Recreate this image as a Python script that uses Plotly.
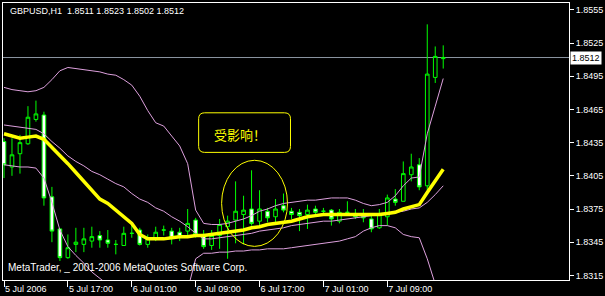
import plotly.graph_objects as go
import pandas as pd

# ---- data ----
times = pd.date_range("2006-07-05 09:00", periods=56, freq="h")

open_ = [1.8436, 1.8413, 1.8425, 1.8434, 1.8456, 1.8460, 1.8386, 1.8357, 1.8331, 1.8343,
         1.8343, 1.8346, 1.8351, 1.8347, 1.8343, 1.8342, 1.8353, 1.8356, 1.8343, 1.8349,
         1.8356, 1.8355, 1.8354, 1.8355, 1.8365, 1.8352, 1.8342, 1.8351, 1.8359, 1.8365,
         1.8370, 1.8375, 1.8364, 1.8373, 1.8368, 1.8378, 1.8373, 1.8372, 1.8370, 1.8375,
         1.8373, 1.8374, 1.8364, 1.8372, 1.8371, 1.8370, 1.8366, 1.8358, 1.8368, 1.8384,
         1.8382, 1.8406, 1.8415, 1.8396, 1.8494, 1.8511]
high = [1.8439, 1.8439, 1.8442, 1.8468, 1.8473, 1.8463, 1.8395, 1.8357, 1.8352, 1.8358,
        1.8358, 1.8359, 1.8355, 1.8356, 1.8347, 1.8359, 1.8361, 1.8358, 1.8352, 1.8359,
        1.8360, 1.8358, 1.8358, 1.8375, 1.8367, 1.8356, 1.8356, 1.8366, 1.8369, 1.8400,
        1.8387, 1.8410, 1.8392, 1.8376, 1.8384, 1.8389, 1.8376, 1.8375, 1.8379, 1.8378,
        1.8376, 1.8375, 1.8375, 1.8382, 1.8375, 1.8375, 1.8370, 1.8375, 1.8388, 1.8393,
        1.8418, 1.8425, 1.8421, 1.8542, 1.8522, 1.8523]
low = [1.8403, 1.8405, 1.8407, 1.8433, 1.8454, 1.8378, 1.8345, 1.8328, 1.8330, 1.8336,
       1.8336, 1.8340, 1.8340, 1.8340, 1.8334, 1.8342, 1.8349, 1.8342, 1.8340, 1.8346,
       1.8351, 1.8343, 1.8346, 1.8351, 1.8349, 1.8339, 1.8338, 1.8339, 1.8330, 1.8344,
       1.8343, 1.8360, 1.8360, 1.8363, 1.8363, 1.8372, 1.8366, 1.8355, 1.8357, 1.8369,
       1.8370, 1.8360, 1.8362, 1.8369, 1.8366, 1.8363, 1.8354, 1.8357, 1.8360, 1.8378,
       1.8382, 1.8400, 1.8392, 1.8392, 1.8489, 1.8502]
close = [1.8415, 1.8424, 1.8435, 1.8458, 1.8461, 1.8385, 1.8355, 1.8331, 1.8340, 1.8345,
         1.8348, 1.8350, 1.8347, 1.8344, 1.8343, 1.8353, 1.8353, 1.8343, 1.8348, 1.8354,
         1.8356, 1.8349, 1.8350, 1.8362, 1.8352, 1.8341, 1.8351, 1.8361, 1.8364, 1.8373,
         1.8374, 1.8362, 1.8375, 1.8367, 1.8375, 1.8374, 1.8370, 1.8369, 1.8374, 1.8372,
         1.8373, 1.8366, 1.8372, 1.8372, 1.8368, 1.8367, 1.8357, 1.8370, 1.8385, 1.8381,
         1.8407, 1.8413, 1.8395, 1.8497, 1.8513, 1.8512]

ma_yellow = [1.8443, 1.8441, 1.8439, 1.8440, 1.8441, 1.8438, 1.8431, 1.8424, 1.8416, 1.8408,
             1.8400, 1.8392, 1.8384, 1.8380, 1.8374, 1.8369, 1.8362, 1.8352, 1.8348, 1.8348,
             1.8348, 1.8349, 1.8350, 1.8350, 1.8351, 1.8351, 1.8352, 1.8353, 1.8354, 1.8355,
             1.8356, 1.8358, 1.8359, 1.8361, 1.8362, 1.8363, 1.8364, 1.8366, 1.8368, 1.8369,
             1.8370, 1.8370, 1.8370, 1.8370, 1.8370, 1.8370, 1.8370, 1.8370, 1.8371, 1.8372,
             1.8375, 1.8377, 1.8379, 1.8390, 1.8401, 1.8411]
bb_mid = [1.8451, 1.8450, 1.8449, 1.8448, 1.8447, 1.8443, 1.8436, 1.8430, 1.8423, 1.8418,
          1.8414, 1.8409, 1.8406, 1.8402, 1.8398, 1.8395, 1.8389, 1.8384, 1.8381, 1.8376,
          1.8373, 1.8368, 1.8364, 1.8359, 1.8353, 1.8348, 1.8348, 1.8349, 1.8350, 1.8351,
          1.8352, 1.8353, 1.8355, 1.8356, 1.8357, 1.8358, 1.8360, 1.8361, 1.8362, 1.8363,
          1.8364, 1.8364, 1.8365, 1.8366, 1.8367, 1.8368, 1.8369, 1.8370, 1.8371, 1.8372,
          1.8373, 1.8375, 1.8376, 1.8381, 1.8388, 1.8396]
bb_upper = [1.8485, 1.8483, 1.8482, 1.8481, 1.8482, 1.8485, 1.8492, 1.8500, 1.8503, 1.8502,
            1.8501, 1.8500, 1.8499, 1.8497, 1.8496, 1.8492, 1.8487, 1.8477, 1.8464, 1.8453,
            1.8450, 1.8441, 1.8432, 1.8416, 1.8374, 1.8362, 1.8361, 1.8361, 1.8362, 1.8364,
            1.8366, 1.8369, 1.8373, 1.8375, 1.8378, 1.8380, 1.8381, 1.8382, 1.8383, 1.8383,
            1.8384, 1.8385, 1.8385, 1.8385, 1.8383, 1.8380, 1.8378, 1.8379, 1.8381, 1.8387,
            1.8396, 1.8403, 1.8404, 1.8443, 1.8468, 1.8493]
bb_lower = [1.8415, 1.8414, 1.8413, 1.8413, 1.8412, 1.8403, 1.8381, 1.8356, 1.8341, 1.8333,
            1.8326, 1.8318, 1.8312, 1.8307, 1.8301, 1.8297, 1.8290, 1.8291, 1.8297, 1.8299,
            1.8295, 1.8296, 1.8296, 1.8302, 1.8330, 1.8335, 1.8335, 1.8336, 1.8336, 1.8337,
            1.8337, 1.8338, 1.8338, 1.8339, 1.8339, 1.8339, 1.8340, 1.8341, 1.8342, 1.8343,
            1.8344, 1.8345, 1.8346, 1.8348, 1.8350, 1.8355, 1.8358, 1.8360, 1.8360, 1.8358,
            1.8352, 1.8350, 1.8349, 1.8330, 1.8307, 1.8296]

tick_times = ["2006-07-05 09:00", "2006-07-05 17:00", "2006-07-06 01:00", "2006-07-06 09:00",
              "2006-07-06 17:00", "2006-07-07 01:00", "2006-07-07 09:00"]
tick_labels = ["5 Jul 2006", "5 Jul 17:00", "6 Jul 01:00", "6 Jul 09:00",
               "6 Jul 17:00", "7 Jul 01:00", "7 Jul 09:00"]
price_ticks = [1.8315, 1.8345, 1.8375, 1.8405, 1.8435, 1.8465, 1.8495, 1.8525, 1.8555]

title_text = "GBPUSD,H1  1.8511 1.8523 1.8502 1.8512"
copyright_text = "MetaTrader, _ 2001-2006 MetaQuotes Software Corp."
note_text = "受影响！"

# ---- styling ----
W, H = 605, 296
ML, MR, MT, MB = 2, 36, 3, 13
PW = W - ML - MR
PH = H - MT - MB
BAR_PX = 8
FONT = "Liberation Sans, Arial, sans-serif"
LIME = "#00ff00"
PLUM = "#dda0dd"

def px_x(p):
    return (p - ML) / PW

def px_y(p):
    return (H - MB - p) / PH

x_start = times[0] - pd.Timedelta(hours=1) * (1 / BAR_PX)
x_end = x_start + pd.Timedelta(hours=1) * (PW / BAR_PX)

fig = go.Figure()
fig.add_trace(go.Candlestick(
    x=times, open=open_, high=high, low=low, close=close,
    increasing=dict(line=dict(color=LIME, width=1), fillcolor="black"),
    decreasing=dict(line=dict(color=LIME, width=1), fillcolor="white"),
    whiskerwidth=0, showlegend=False, hoverinfo="skip",
))
for band in (bb_upper, bb_mid, bb_lower):
    fig.add_trace(go.Scatter(x=times, y=band, mode="lines",
                             line=dict(color=PLUM, width=1), showlegend=False, hoverinfo="skip"))
fig.add_trace(go.Scatter(x=times, y=ma_yellow, mode="lines",
                         line=dict(color="#ffff00", width=3.5), showlegend=False, hoverinfo="skip"))

# current price line
fig.add_shape(type="line", xref="paper", yref="y", x0=0, x1=1, y0=close[-1], y1=close[-1],
              line=dict(color="#8c96a2", width=1), layer="below")
fig.add_annotation(xref="paper", yref="y", x=1, y=close[-1], xanchor="left", yanchor="middle",
                   text=f"{close[-1]:.4f}", showarrow=False, bgcolor="white",
                   font=dict(color="black", size=9, family=FONT), borderpad=1, xshift=1)

# title and copyright
fig.add_annotation(xref="paper", yref="paper", x=px_x(7), y=px_y(11), xanchor="left", yanchor="middle",
                   text=title_text, showarrow=False, font=dict(color="white", size=9, family=FONT))
fig.add_annotation(xref="paper", yref="paper", x=px_x(5), y=px_y(270), xanchor="left", yanchor="middle",
                   text=copyright_text, showarrow=False, font=dict(color="white", size=10, family=FONT))

# callout box with rounded corners
bx0, bx1, by0, by1 = px_x(198), px_x(290), px_y(154), px_y(114)
rx, ry = 6 / PW, 6 / PH
path = (f"M {bx0+rx},{by1} L {bx1-rx},{by1} Q {bx1},{by1} {bx1},{by1-ry} "
        f"L {bx1},{by0+ry} Q {bx1},{by0} {bx1-rx},{by0} L {bx0+rx},{by0} "
        f"Q {bx0},{by0} {bx0},{by0+ry} L {bx0},{by1-ry} Q {bx0},{by1} {bx0+rx},{by1} Z")
fig.add_shape(type="path", xref="paper", yref="paper", path=path,
              line=dict(color="#ffff00", width=1))
fig.add_annotation(xref="paper", yref="paper", x=px_x(211), y=px_y(136), xanchor="left", yanchor="middle",
                   text=note_text, showarrow=False,
                   font=dict(color="#ffff00", size=13, family="Noto Sans CJK SC"))
# ellipse
fig.add_shape(type="circle", xref="paper", yref="paper",
              x0=px_x(221), x1=px_x(287), y0=px_y(249), y1=px_y(162),
              line=dict(color="#ffff00", width=1))

fig.update_layout(
    width=W, height=H, margin=dict(l=ML, r=MR, t=MT, b=MB),
    paper_bgcolor="black", plot_bgcolor="black",
    font=dict(family=FONT, size=9, color="white"),
    showlegend=False,
    boxgap=0.35,
    xaxis=dict(range=[x_start, x_end], rangeslider=dict(visible=False),
               showgrid=False, zeroline=False, showline=True, linecolor="white", linewidth=1,
               mirror=True, ticks="outside", ticklen=6, tickcolor="white",
               tickvals=tick_times, ticktext=tick_labels, ticklabelposition="outside right",
               tickfont=dict(color="white", size=9, family=FONT)),
    yaxis=dict(range=[1.83108, 1.85613], side="right", showgrid=False, zeroline=False,
               showline=True, linecolor="white", linewidth=1, mirror=True,
               ticks="outside", ticklen=4, tickcolor="white",
               tickvals=price_ticks, ticktext=[f"{v:.4f}" for v in price_ticks],
               tickfont=dict(color="white", size=9, family=FONT)),
)

fig.write_html("out.html")
